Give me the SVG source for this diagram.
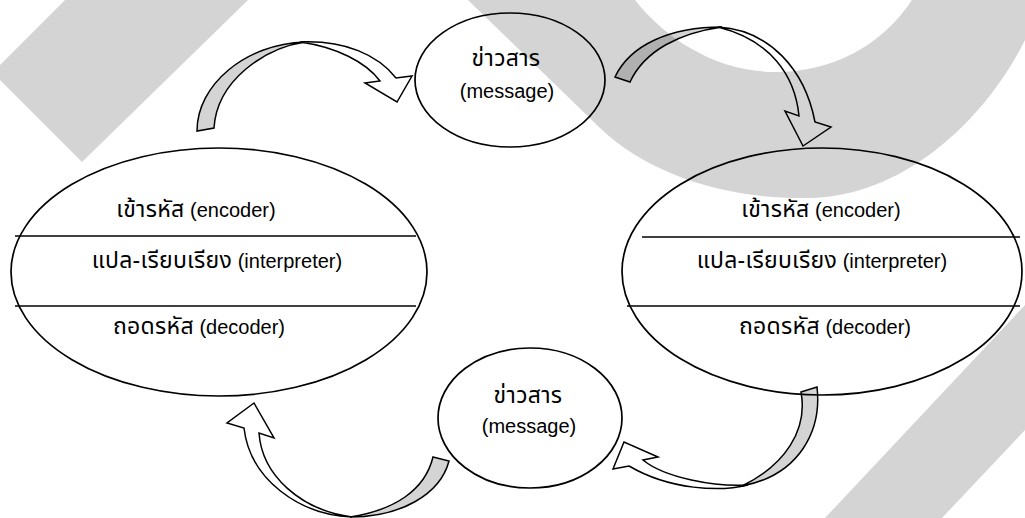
<svg xmlns="http://www.w3.org/2000/svg" width="1025" height="518" viewBox="0 0 1025 518">
<style>
.wm{fill:#d4d4d4}
.shape{fill:none;stroke:#000;stroke-width:1.7}
.sep{stroke:#000;stroke-width:1.6}
.t{font-family:"Liberation Sans","Noto Sans Thai","Noto Sans",sans-serif;font-size:20px;text-anchor:middle;fill:#000}
.th{font-size:23px;letter-spacing:0.3px}
.back{fill:#000;fill-opacity:0.17;stroke:#000;stroke-width:1.5;stroke-linejoin:miter}
.front{fill:none;stroke:#000;stroke-width:1.5;stroke-linejoin:miter}
</style>
<g id="watermark">
<polygon class="wm" points="65,0 248,0 82,162 0,80 0,65"/>
<path class="wm" d="M468,0 L600,128 C650,176 730,200 812,198 C905,195 985,120 1025,40 L1025,0 L912,0 C880,48 830,72 775,72 C720,72 668,42 635,0 Z"/>
<polygon class="wm" points="1025,305 825,518 942,518 1025,430"/>
</g>
<g id="connectors">
<g id="arrow-top-left">
<path class="back" d="M197,131 C197,85 245,44 305,42 C265,48 217,80 214,128 Z"/>
<path class="front" d="M300,42 C345,40 378,55 396,78 L412,76 L397,102 L365,83 L380,81 C366,62 336,47 300,42 Z"/>
</g>
<g id="arrow-top-right">
<path class="back" d="M615,77 C630,45 670,27 722,27 C680,33 645,50 630,82 Z"/>
<path class="front" d="M718,27 C770,30 805,70 815,122 L831,127 L803,146 L785,111 L799,116 C795,75 770,40 718,27 Z"/>
</g>
<g id="arrow-bottom-right">
<path class="back" d="M801,392 L817,387 C822,430 800,475 742,486 C785,465 808,430 801,392 Z"/>
<path class="front" d="M748,485 C720,492 670,490 629,466 L613,469 L624,442 L658,457 L643,460 C665,478 715,487 748,485 Z"/>
</g>
<g id="arrow-bottom-left">
<path class="back" d="M433,457 L449,461 C440,495 400,517 350,517 C395,510 425,490 433,457 Z"/>
<path class="front" d="M352,517 C300,515 250,480 244,428 L227,423 L254,403 L274,438 L259,433 C262,475 300,510 352,517 Z"/>
</g>
</g>
<g id="node-left">
<ellipse class="shape" cx="219" cy="272" rx="208" ry="124"/>
<line class="sep" x1="15" y1="236" x2="416" y2="236"/>
<line class="sep" x1="15" y1="306" x2="416" y2="306"/>
<text class="t" x="196" y="217"><tspan class="th">เข้ารหัส</tspan> (encoder)</text>
<text class="t" x="217" y="268"><tspan class="th">แปล-เรียบเรียง</tspan> (interpreter)</text>
<text class="t" x="199" y="334"><tspan class="th">ถอดรหัส</tspan> (decoder)</text>
</g>
<g id="node-right">
<ellipse class="shape" cx="822" cy="271.5" rx="200" ry="123.5"/>
<line class="sep" x1="642" y1="237" x2="1020" y2="237"/>
<line class="sep" x1="627" y1="306" x2="1020" y2="306"/>
<text class="t" x="821" y="217"><tspan class="th">เข้ารหัส</tspan> (encoder)</text>
<text class="t" x="822" y="268"><tspan class="th">แปล-เรียบเรียง</tspan> (interpreter)</text>
<text class="t" x="825" y="334"><tspan class="th">ถอดรหัส</tspan> (decoder)</text>
</g>
<g id="node-message-top">
<ellipse class="shape" cx="510" cy="80" rx="95" ry="67"/>
<text class="t th" x="506" y="66">ข่าวสาร</text>
<text class="t" x="507" y="98">(message)</text>
</g>
<g id="node-message-bottom">
<ellipse class="shape" cx="530" cy="418" rx="92" ry="70"/>
<text class="t th" x="528" y="403">ข่าวสาร</text>
<text class="t" x="529" y="433">(message)</text>
</g>
</svg>
